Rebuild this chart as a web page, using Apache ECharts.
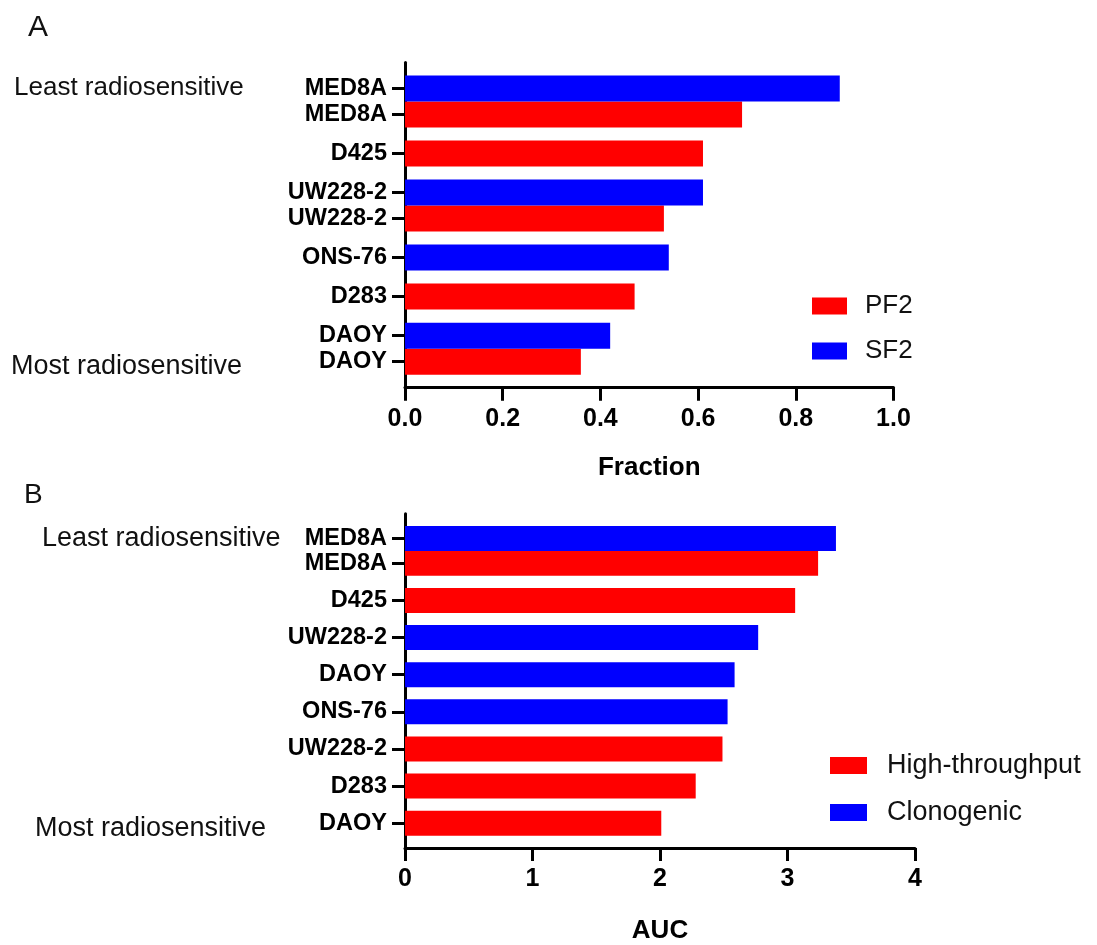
<!DOCTYPE html>
<html><head><meta charset="utf-8">
<script src="https://cdn.jsdelivr.net/npm/echarts@6/dist/echarts.min.js"></script>
<style>html,body{margin:0;padding:0;background:#fff}#c{width:1097px;height:945px}</style>
</head><body><div id="c"></div><script>
// ---- Panel A data ----
const labelsA = ['MED8A','MED8A','D425','UW228-2','UW228-2','ONS-76','D283','DAOY','DAOY'];
const assayA  = ['SF2','PF2','PF2','SF2','PF2','SF2','PF2','SF2','PF2'];
const valuesA = [0.89,0.69,0.61,0.61,0.53,0.54,0.47,0.42,0.36];
const seriesNamesA = ['PF2','SF2'];
const ticksA = [0,0.2,0.4,0.6,0.8,1.0];
// ---- Panel B data ----
const labelsB = ['MED8A','MED8A','D425','UW228-2','DAOY','ONS-76','UW228-2','D283','DAOY'];
const assayB  = ['Clonogenic','High-throughput','High-throughput','Clonogenic','Clonogenic','Clonogenic','High-throughput','High-throughput','High-throughput'];
const valuesB = [3.38,3.24,3.06,2.77,2.585,2.53,2.49,2.28,2.01];
const seriesNamesB = ['High-throughput','Clonogenic'];
const ticksB = [0,1,2,3,4];

const FONT = '"Liberation Sans", Arial, sans-serif';
const COLORS = ['#FF0000', '#0000FF'];

// same cell line in consecutive rows -> rows adjacent, otherwise a small gap
function build(labels, assay, values, names) {
  const PAD = 2;
  const slots = []; let s = 0;
  labels.forEach((l, i) => { if (i > 0) s += (l === labels[i - 1]) ? 2 : 3; slots.push(s); });
  const n = s + 1 + 2 * PAD;
  const cats = new Array(n).fill('');
  const data = names.map(() => new Array(n).fill('-'));
  labels.forEach((l, i) => {
    const k = slots[i] + PAD;
    cats[k] = l;
    data[names.indexOf(assay[i])][k] = values[i];
  });
  return { cats, data };
}
const A = build(labelsA, assayA, valuesA, seriesNamesA);
const B = build(labelsB, assayB, valuesB, seriesNamesB);

function yAxis(cats, gi) {
  return {
    type: 'category', gridIndex: gi, data: cats, inverse: true, boundaryGap: false,
    axisLine: { lineStyle: { color: '#000', width: 3 } },
    axisTick: { length: 13, interval: (i, v) => v !== '', lineStyle: { color: '#000', width: 3 } },
    axisLabel: { interval: 0, margin: 18, color: '#000', fontWeight: 'bold', fontSize: 23.5, fontFamily: FONT },
    splitLine: { show: false }
  };
}
function xAxis(ticks, gi, name, fmt, gap) {
  return {
    type: 'value', gridIndex: gi, min: ticks[0], max: ticks[ticks.length - 1],
    interval: ticks[1] - ticks[0],
    name: name, nameLocation: 'middle', nameGap: gap,
    nameTextStyle: { color: '#000', fontWeight: 'bold', fontSize: 26, fontFamily: FONT },
    axisLine: { show: true, lineStyle: { color: '#000', width: 3 } },
    axisTick: { show: true, length: 13, lineStyle: { color: '#000', width: 3 } },
    axisLabel: { margin: 19, color: '#000', fontWeight: 'bold', fontSize: 25, fontFamily: FONT, formatter: fmt },
    splitLine: { show: false }
  };
}
function series(names, data, xi, bw) {
  return names.map((nm, j) => ({
    type: 'bar', name: nm, xAxisIndex: xi, yAxisIndex: xi, data: data[j],
    barWidth: bw, barGap: '-100%', itemStyle: { color: COLORS[j] }
  }));
}
function legend(names, left, top, w, h, gap, fs, pad) {
  return {
    data: names, orient: 'vertical', left: left, top: top, padding: 0,
    itemWidth: w, itemHeight: h, itemGap: gap, icon: 'rect', selectedMode: false,
    textStyle: { fontSize: fs, lineHeight: fs, fontFamily: FONT, color: '#111', padding: [0, 0, 0, pad] }
  };
}
function txt(s, x, y, fs) {
  return { type: 'text', x: x, y: y, style: { text: s, font: fs + 'px ' + FONT, fill: '#111', verticalAlign: 'middle' } };
}

const chart = echarts.init(document.getElementById('c'), null, { renderer: 'canvas' });
chart.setOption({
  animation: false,
  backgroundColor: '#fff',
  grid: [
    { left: 405, top: 62.4, width: 488.5, height: 325.3 },
    { left: 405, top: 513.8, width: 510, height: 336.9 }
  ],
  xAxis: [
    xAxis(ticksA, 0, 'Fraction', v => v.toFixed(1), 67),
    xAxis(ticksB, 1, 'AUC', v => String(v), 70)
  ],
  yAxis: [yAxis(A.cats, 0), yAxis(B.cats, 1)],
  legend: [
    legend(seriesNamesA, 812, 293, 35, 17, 19, 26, 13),
    legend(seriesNamesB, 830, 752, 37, 17, 20, 27, 15)
  ],
  series: [...series(seriesNamesA, A.data, 0, 26), ...series(seriesNamesB, B.data, 1, 25)],
  graphic: [
    txt('A', 28, 28, 30),
    txt('B', 24, 495, 28),
    txt('Least radiosensitive', 14, 88, 26),
    txt('Most radiosensitive', 11, 367, 27),
    txt('Least radiosensitive', 42, 539, 27),
    txt('Most radiosensitive', 35, 829, 27)
  ]
});
</script></body></html>
